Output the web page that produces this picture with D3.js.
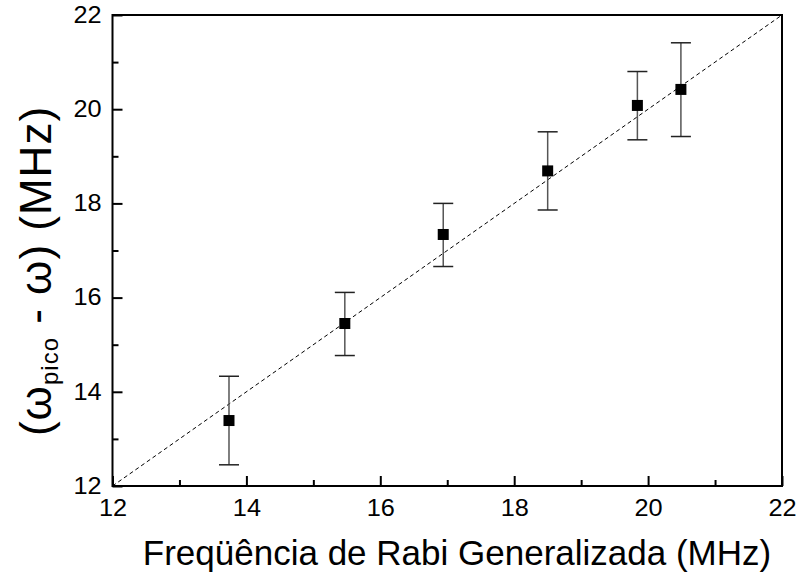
<!DOCTYPE html>
<html><head><meta charset="utf-8">
<script src="https://cdn.jsdelivr.net/npm/d3@7"></script>
<style>body{margin:0;background:#fff;} svg{display:block;}</style>
</head><body>
<script>
const xVals = [13.74, 15.47, 16.94, 18.50, 19.84, 20.49];
const yVals = [13.39, 15.45, 17.34, 18.69, 20.08, 20.42];
const yLow  = [12.45, 14.77, 16.66, 17.86, 19.35, 19.42];
const yHigh = [14.33, 16.11, 18.00, 19.52, 20.80, 21.41];
const majorTicks = [12, 14, 16, 18, 20, 22];
const minorTicks = [13, 15, 17, 19, 21];
const refLine = [12, 22];

const W = 796, H = 580;
const m = {left: 112.5, right: 782, top: 15, bottom: 486};
const svg = d3.select("body").append("svg").attr("width", W).attr("height", H);
const x = d3.scaleLinear().domain([12, 22]).range([m.left, m.right]);
const y = d3.scaleLinear().domain([12, 22]).range([m.bottom, m.top]);
const font = "'Liberation Sans', Arial, sans-serif";
const stretch = 1.1;

// reference line y = x
svg.append("line")
  .attr("x1", x(refLine[0])).attr("y1", y(refLine[0]))
  .attr("x2", x(refLine[1])).attr("y2", y(refLine[1]))
  .attr("stroke", "#000").attr("stroke-width", 1).attr("stroke-dasharray", "4,3");

const data = xVals.map((v, i) => ({x: v, y: yVals[i], lo: yLow[i], hi: yHigh[i]}));
const g = svg.append("g");
g.selectAll(".eb").data(data).enter().append("line")
  .attr("x1", d => x(d.x)).attr("x2", d => x(d.x))
  .attr("y1", d => y(d.lo)).attr("y2", d => y(d.hi))
  .attr("stroke", "#555").attr("stroke-width", 1.5);
["lo", "hi"].forEach(k => {
  g.selectAll(".cap" + k).data(data).enter().append("line")
    .attr("x1", d => x(d.x) - 10).attr("x2", d => x(d.x) + 10)
    .attr("y1", d => y(d[k])).attr("y2", d => y(d[k]))
    .attr("stroke", "#222").attr("stroke-width", 1.5);
});
g.selectAll("rect").data(data).enter().append("rect")
  .attr("x", d => x(d.x) - 5.5).attr("y", d => y(d.y) - 5.5)
  .attr("width", 11).attr("height", 11).attr("fill", "#000");

// frame
svg.append("rect").attr("x", m.left).attr("y", m.top)
  .attr("width", m.right - m.left).attr("height", m.bottom - m.top)
  .attr("fill", "none").attr("stroke", "#000").attr("stroke-width", 2);

// bottom axis
const xAxis = svg.append("g").attr("transform", `translate(0,${m.bottom})`)
  .call(d3.axisBottom(x).tickValues(majorTicks).tickSizeInner(-10).tickSizeOuter(0).tickPadding(14).tickFormat(d3.format("d")));
xAxis.select(".domain").remove();
xAxis.selectAll("line").attr("stroke-width", 2);
xAxis.selectAll("text").style("font-family", font).style("font-size", "23px").attr("fill", "#000")
  .attr("transform", `scale(${stretch},1)`);
const xMinor = svg.append("g").attr("transform", `translate(0,${m.bottom})`)
  .call(d3.axisBottom(x).tickValues(minorTicks).tickSizeInner(-6).tickSizeOuter(0).tickFormat(""));
xMinor.select(".domain").remove();
xMinor.selectAll("line").attr("stroke-width", 2);

// left axis
const yAxis = svg.append("g").attr("transform", `translate(${m.left},0)`)
  .call(d3.axisLeft(y).tickValues(majorTicks).tickSizeInner(-10).tickSizeOuter(0).tickPadding(12).tickFormat(d3.format("d")));
yAxis.select(".domain").remove();
yAxis.selectAll("line").attr("stroke-width", 2);
yAxis.selectAll("text").style("font-family", font).style("font-size", "23px").attr("fill", "#000")
  .attr("x", -11 / stretch).attr("transform", `scale(${stretch},1)`);
const yMinor = svg.append("g").attr("transform", `translate(${m.left},0)`)
  .call(d3.axisLeft(y).tickValues(minorTicks).tickSizeInner(-6).tickSizeOuter(0).tickFormat(""));
yMinor.select(".domain").remove();
yMinor.selectAll("line").attr("stroke-width", 2);

// x label
svg.append("text").attr("x", 457).attr("y", 565).attr("text-anchor", "middle")
  .style("font-family", font).style("font-size", "35px").attr("fill", "#000")
  .text("Freqüência de Rabi Generalizada (MHz)");

// y label
const yl = svg.append("text").attr("transform", "translate(51,271) rotate(-90)")
  .attr("text-anchor", "middle").style("font-family", font).style("font-size", "44px")
  .style("letter-spacing", "1px").attr("fill", "#000");
yl.append("tspan").text("(ω");
yl.append("tspan").style("font-size", "24px").attr("dy", 7).text("pico");
yl.append("tspan").attr("dy", -7).text(" - ω) (MHz)");
</script>
</body></html>
